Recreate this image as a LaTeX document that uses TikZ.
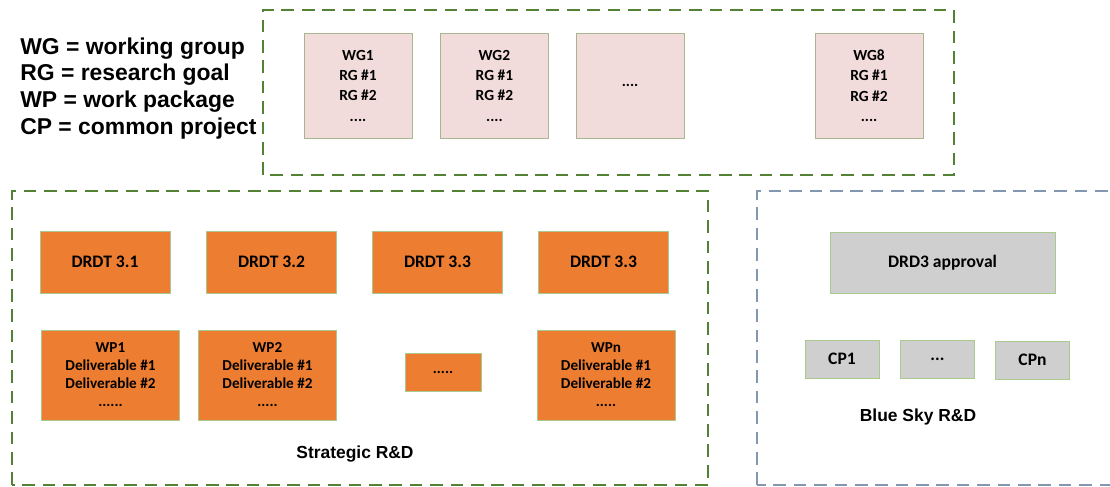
\documentclass[tikz,border=0pt]{standalone}
\usepackage{fontspec}
\setmainfont{Carlito}
\newfontfamily\labelfont{Liberation Sans}
\usetikzlibrary{shapes,positioning,calc}

\definecolor{framegreen}{HTML}{548235}
\definecolor{frameblue}{HTML}{8497B0}
\definecolor{wgpink}{HTML}{F2DCDB}
\definecolor{wgborder}{HTML}{A8B58F}
\definecolor{drdorange}{HTML}{ED7D31}
\definecolor{boxgreen}{HTML}{A9C98E}
\definecolor{cpgray}{HTML}{CFCFCF}

\begin{document}
\begin{tikzpicture}[
  greenframe/.style={draw=framegreen, line width=1.8pt, dash pattern=on 9pt off 5.5pt},
  blueframe/.style={draw=frameblue, line width=1.6pt, dash pattern=on 9pt off 5.5pt},
  wgbox/.style={draw=wgborder, fill=wgpink, rectangle, minimum width=2.7cm, minimum height=2.625cm, align=center, font=\fontsize{11}{14.5}\selectfont\bfseries},
  drdtbox/.style={draw=boxgreen, fill=drdorange, rectangle, minimum width=3.25cm, minimum height=1.55cm, font=\fontsize{12.5}{15}\selectfont\bfseries},
  wpbox/.style={draw=boxgreen, fill=drdorange, rectangle, minimum width=3.45cm, minimum height=2.25cm, align=center, font=\fontsize{10.8}{12.8}\selectfont\bfseries},
  cpbox/.style={draw=boxgreen, fill=cpgray, rectangle, minimum width=1.85cm, minimum height=0.95cm, font=\fontsize{12.5}{15}\selectfont\bfseries},
  grouplabel/.style={draw=none, font=\labelfont\fontsize{12.4}{15}\selectfont\bfseries}
]

% Picture area
\clip (0, 0) rectangle (27.75, 12.15);

% Legend (top left)
\node[draw=none, anchor=west, inner sep=0, align=left, font=\labelfont\fontsize{16.3}{19.1}\selectfont\bfseries] (legend) at (0.5, 9.94) {
  WG = working group\\RG = research goal\\WP = work package\\CP = common project
};

% Working groups (top)
\draw[greenframe] (6.575, 7.775) rectangle (23.85, 11.9);
\node[wgbox] (wg1) at (8.95, 10.01) {WG1\\RG \#1\\RG \#2\\....};
\node[wgbox] (wg2) at (12.36, 10.01) {WG2\\RG \#1\\RG \#2\\....};
\node[wgbox] (wgdots) at (15.75, 10.01) {....};
\node[wgbox] (wg8) at (21.725, 10.01) {WG8\\RG \#1\\RG \#2\\....};

% Strategic R&D (bottom left)
\draw[greenframe] (0.3, 0.025) rectangle (17.7, 7.375);
\node[drdtbox] (drdt1) at (2.625, 5.6) {DRDT 3.1};
\node[drdtbox] (drdt2) at (6.7875, 5.6) {DRDT 3.2};
\node[drdtbox] (drdt3) at (10.9375, 5.6) {DRDT 3.3};
\node[drdtbox] (drdt4) at (15.0875, 5.6) {DRDT 3.3};

\node[wpbox] (wp1) at (2.7625, 2.775) {WP1\\Deliverable \#1\\Deliverable \#2\\......};
\node[wpbox] (wp2) at (6.6875, 2.775) {WP2\\Deliverable \#1\\Deliverable \#2\\.....};
\node[wpbox, minimum width=1.9cm, minimum height=0.95cm] (wpdots) at (11.075, 2.85) {.....};
\node[wpbox] (wpn) at (15.15, 2.775) {WPn\\Deliverable \#1\\Deliverable \#2\\.....};

\node[grouplabel] (strategic) at (8.875, 0.8) {Strategic R\&D};

% Blue Sky R&D (bottom right)
\draw[blueframe] (18.925, 0.025) rectangle (28.5, 7.375);
\node[cpbox, minimum width=5.625cm, minimum height=1.525cm] (drd3) at (23.5625, 5.5875) {DRD3 approval};
\node[cpbox] (cp1) at (21.05, 3.175) {CP1};
\node[cpbox] (cpdots) at (23.4375, 3.16) {...};
\node[cpbox] (cpn) at (25.8125, 3.15) {CPn};

\node[grouplabel] (bluesky) at (22.95, 1.725) {Blue Sky R\&D};

\end{tikzpicture}
\end{document}
